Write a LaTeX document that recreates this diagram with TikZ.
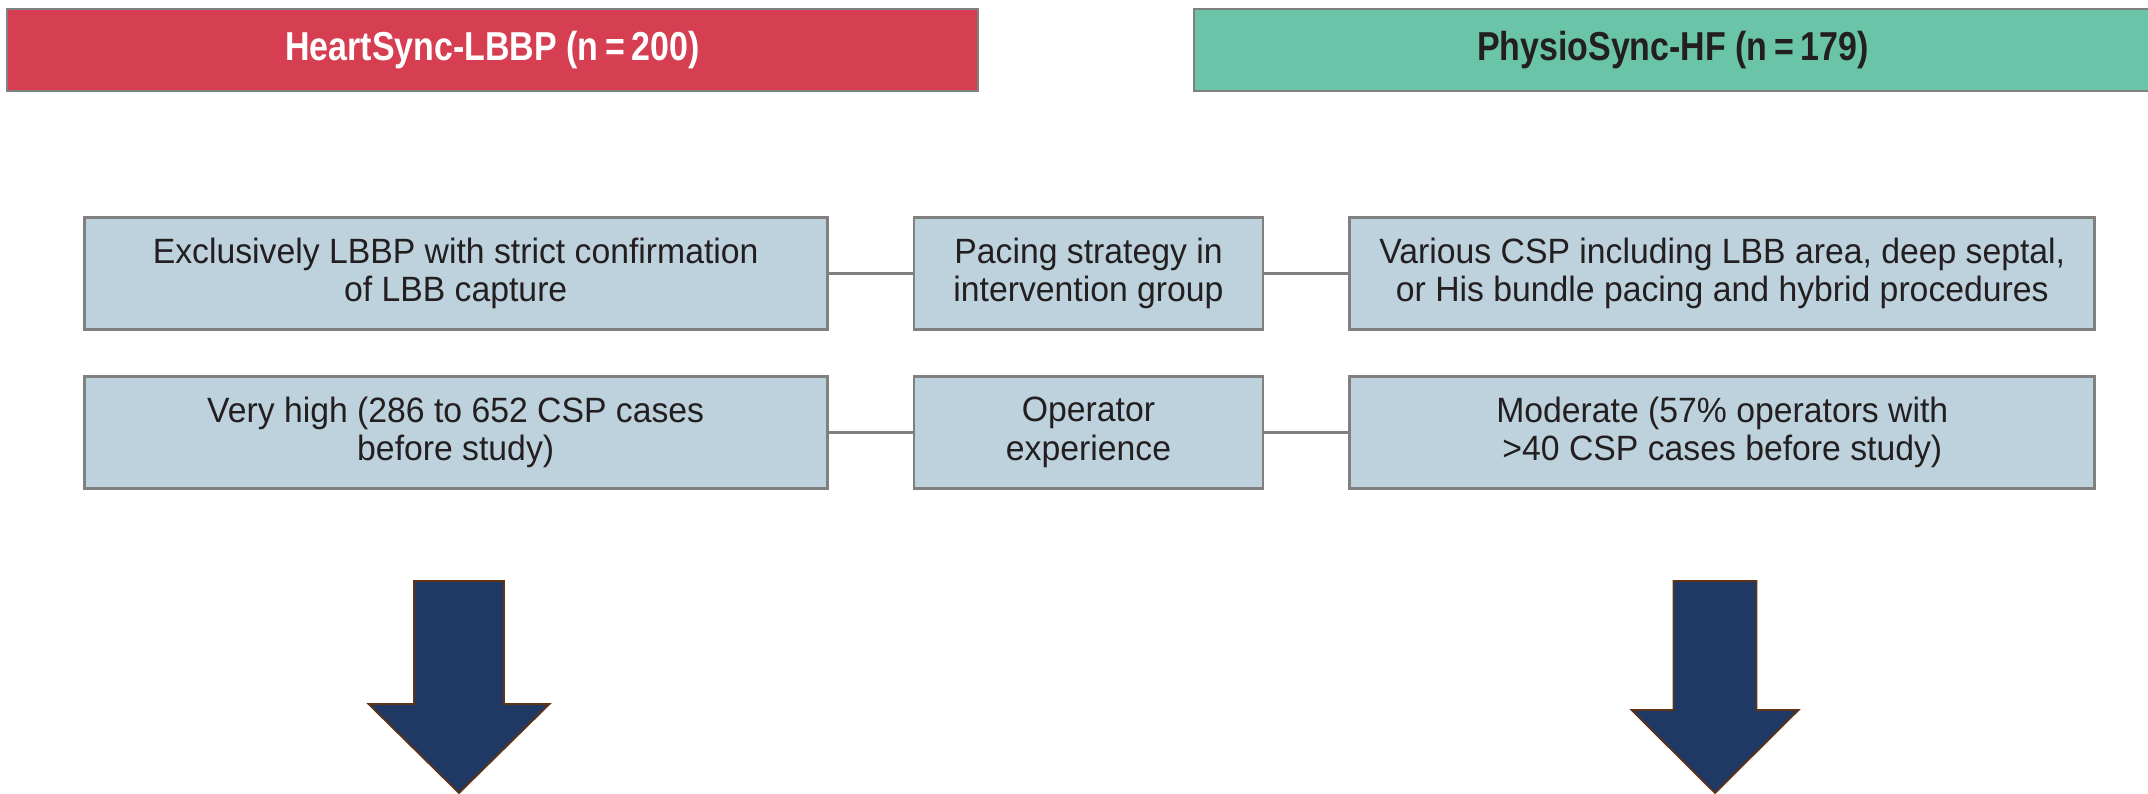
\documentclass[tikz,border=0pt]{standalone}
\usepackage{fontspec}
\setmainfont{Liberation Sans}[FakeStretch=0.96]
\newfontfamily\headfont{Liberation Sans}[FakeStretch=0.84]
\usetikzlibrary{positioning}
\definecolor{trialred}{RGB}{214,62,81}
\definecolor{trialgreen}{RGB}{106,196,167}
\definecolor{boxfill}{RGB}{189,210,220}
\definecolor{boxline}{RGB}{128,128,128}
\definecolor{inktext}{RGB}{35,31,32}
\definecolor{navy}{RGB}{32,56,100}
\definecolor{rust}{RGB}{95,52,22}
\tikzset{
    header/.style={draw=boxline,line width=0.8pt,minimum height=0.82cm,
        font=\headfont\fontsize{11.5}{13}\selectfont\bfseries},
    cell/.style={draw=boxline,line width=0.8pt,fill=boxfill,text=inktext,
        minimum height=1.12cm,align=center,inner sep=2pt,
        font=\fontsize{10}{11}\selectfont},
    link/.style={draw=boxline,line width=0.8pt}
}
\begin{document}
\begin{tikzpicture}
        \useasboundingbox (0,0) rectangle (21.48,-7.94);
        %% trial headers
        \node[header,fill=trialred,text=white,minimum width=9.71cm] (hs) at (4.925,-0.50) {HeartSync-LBBP (n\,=\,200)};
        \node[header,fill=trialgreen,text=inktext,minimum width=9.58cm] (ps) at (16.73,-0.50) {PhysioSync-HF (n\,=\,179)};
        %% rows
        \node[cell,minimum width=3.49cm] (pace) at (10.885,-2.735) {Pacing strategy in\\intervention group};
        \node[cell,minimum width=7.43cm,left=0.84cm of pace] (paceL) {Exclusively LBBP with strict confirmation\\of LBB capture};
        \node[cell,minimum width=7.45cm,right=0.84cm of pace] (paceR) {Various CSP including LBB area, deep septal,\\or His bundle pacing and hybrid procedures};
        \node[cell,minimum width=3.49cm,below=0.44cm of pace] (oper) {Operator\\experience};
        \node[cell,minimum width=7.43cm,left=0.84cm of oper] (operL) {Very high (286 to 652 CSP cases\\before study)};
        \node[cell,minimum width=7.45cm,right=0.84cm of oper] (operR) {Moderate (57\% operators with\\>40 CSP cases before study)};
        \draw[link] (paceL) -- (pace) -- (paceR);
        \draw[link] (operL) -- (oper) -- (operR);
        %% block arrows
        \foreach \x/\s/\h/\y in {4.59/0.45/0.905/7.04,17.15/0.415/0.835/7.10} {
            \draw[fill=navy,draw=rust,line width=0.5pt]
                (\x-\s,-5.81) -- (\x+\s,-5.81) -- (\x+\s,-\y) -- (\x+\h,-\y)
                -- (\x,-7.93) -- (\x-\h,-\y) -- (\x-\s,-\y) -- cycle;
        }
    \end{tikzpicture}
\end{document}
